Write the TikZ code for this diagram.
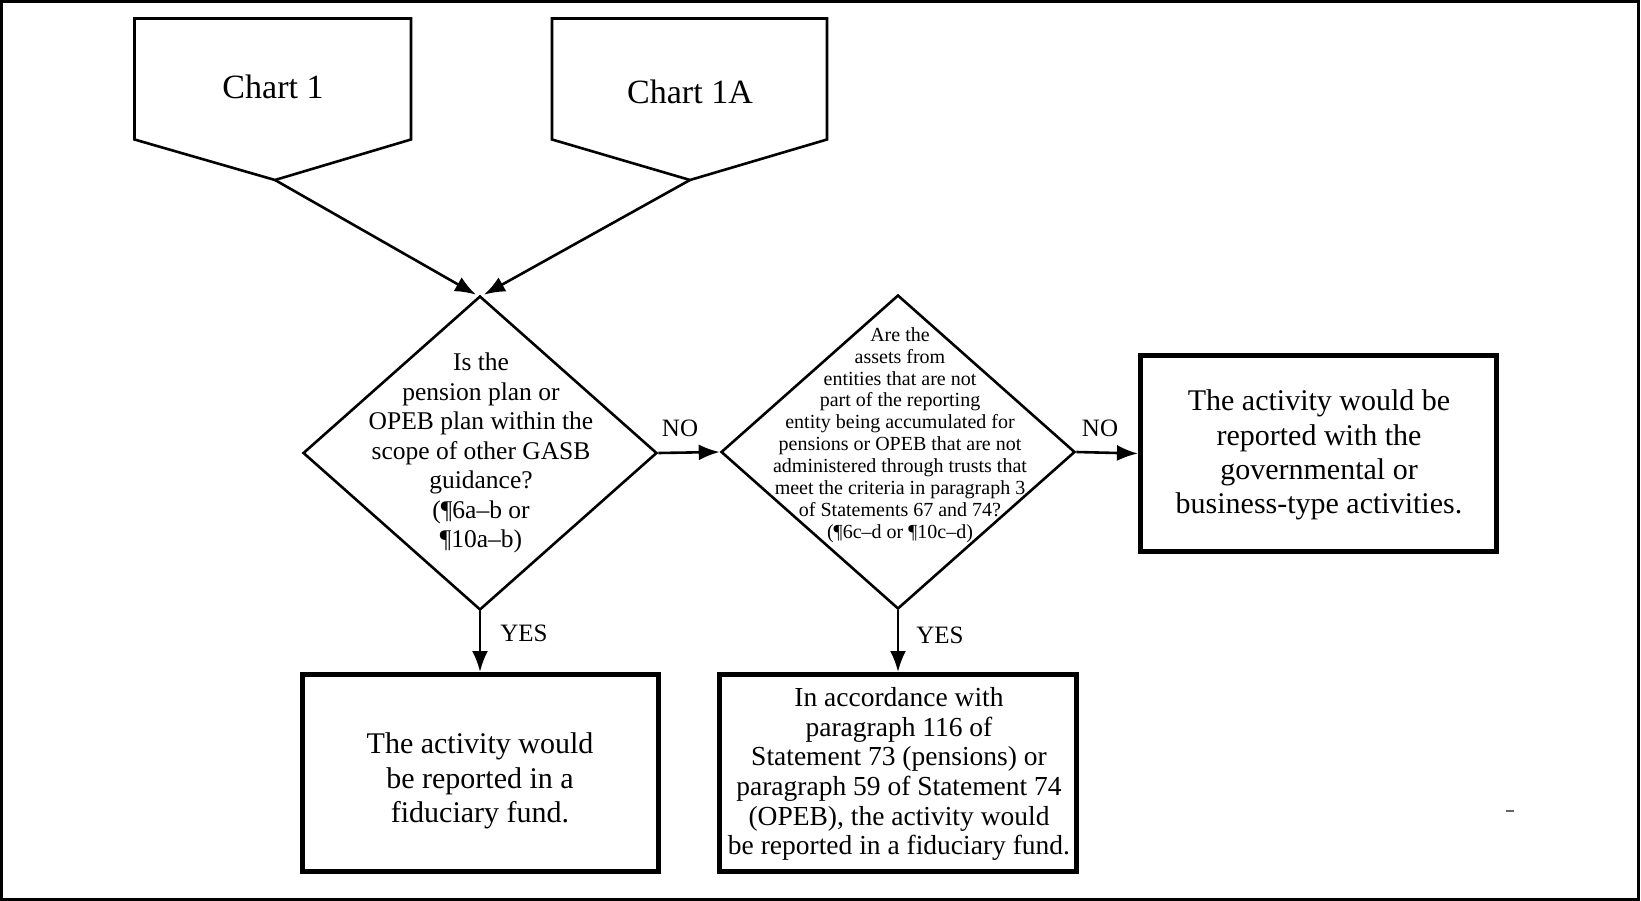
\documentclass[tikz,border=0pt]{standalone}
\usepackage{fontspec}
\setmainfont{Liberation Serif}
\usetikzlibrary{shapes.geometric,arrows.meta}
\begin{document}
\begin{tikzpicture}[x=1pt,y=-1pt,
  conn/.style={line width=2.6pt,-{Latex[length=21pt,width=16pt]}},
  dia/.style={draw,diamond,line width=2.6pt,minimum width=354pt,minimum height=314pt,inner sep=0pt},
  outbox/.style={draw,rectangle,line width=5pt,inner sep=0pt},
  pent/.style={line width=2.6pt,line join=miter},
  charttext/.style={font=\fontsize{34}{40}\selectfont,inner sep=0pt},
  d1font/.style={font=\fontsize{25.5}{29.5}\selectfont,align=center,inner sep=0pt},
  d2font/.style={font=\fontsize{20}{21.9}\selectfont,align=center,inner sep=0pt},
  bigtext/.style={font=\fontsize{30}{34.3}\selectfont,align=center,inner sep=0pt},
  midtext/.style={font=\fontsize{27.5}{29.7}\selectfont,align=center,inner sep=0pt},
  lbl/.style={font=\fontsize{25}{30}\selectfont,inner sep=0pt}
]
\useasboundingbox (0,0) rectangle (1641,901);
% outer frame
\draw[line width=3pt] (1.5,1.5) rectangle (1638.5,899.5);

% pentagons (off-page connectors)
\draw[pent] (134.5,18.5) -- (411,18.5) -- (411,139.5) -- (275,180) -- (134.5,139.5) -- cycle;
\coordinate (c1p) at (275,180);
\node[charttext] (c1) at (273,87) {Chart 1};

\draw[pent] (552,18.5) -- (827,18.5) -- (827,139.5) -- (690,180) -- (552,139.5) -- cycle;
\coordinate (c2p) at (690,180);
\node[charttext] (c2) at (690,91.5) {Chart 1A};

% decisions
\node[dia] (d1) at (480,453) {};
\node[d1font] (d1t) at (481,453) {Is the\\pension plan or\\OPEB plan within the\\scope of other GASB\\guidance?\\(¶6a–b or\\¶10a–b)};

\node[dia] (d2) at (898,452) {};
\node[d2font] (d2t) at (900,435) {Are the\\assets from\\entities that are not\\part of the reporting\\entity being accumulated for\\pensions or OPEB that are not\\administered through trusts that\\meet the criteria in paragraph 3\\of Statements 67 and 74?\\(¶6c–d or ¶10c–d)};

% outcome boxes
\node[outbox,minimum width=356pt,minimum height=196pt] (r) at (1318.5,453.5) {};
\node[bigtext] (rt) at (1319,455) {The activity would be\\reported with the\\governmental or\\business-type activities.};

\node[outbox,minimum width=356pt,minimum height=197pt] (b1) at (480,773) {};
\node[bigtext] (b1t) at (480,781) {The activity would\\be reported in a\\fiduciary fund.};

\node[outbox,minimum width=357pt,minimum height=197pt] (b2) at (898,773) {};
\node[midtext] (b2t) at (899,774) {In accordance with\\paragraph 116 of\\Statement 73 (pensions) or\\paragraph 59 of Statement 74\\(OPEB), the activity would\\be reported in a fiduciary fund.};

% connectors
\draw[conn] (c1p) -- ([xshift=-4pt]d1.north);
\draw[conn] (c2p) -- ([xshift=4pt]d1.north);
\draw[conn] (d1.east) -- (d2.west);
\draw[conn] (d2.east) -- (r.west);
\draw[conn] (d1.south) -- (b1.north);
\draw[conn] (d2.south) -- (b2.north);

% labels
\node[lbl] (no1) at (680,428) {NO};
\node[lbl] (no2) at (1100,428) {NO};
\node[lbl] (yes1) at (524,633) {YES};
\node[lbl] (yes2) at (940,635) {YES};

% small stray mark
\draw[line width=2pt,black!60] (1506,811) -- (1514,811);
\end{tikzpicture}
\end{document}
